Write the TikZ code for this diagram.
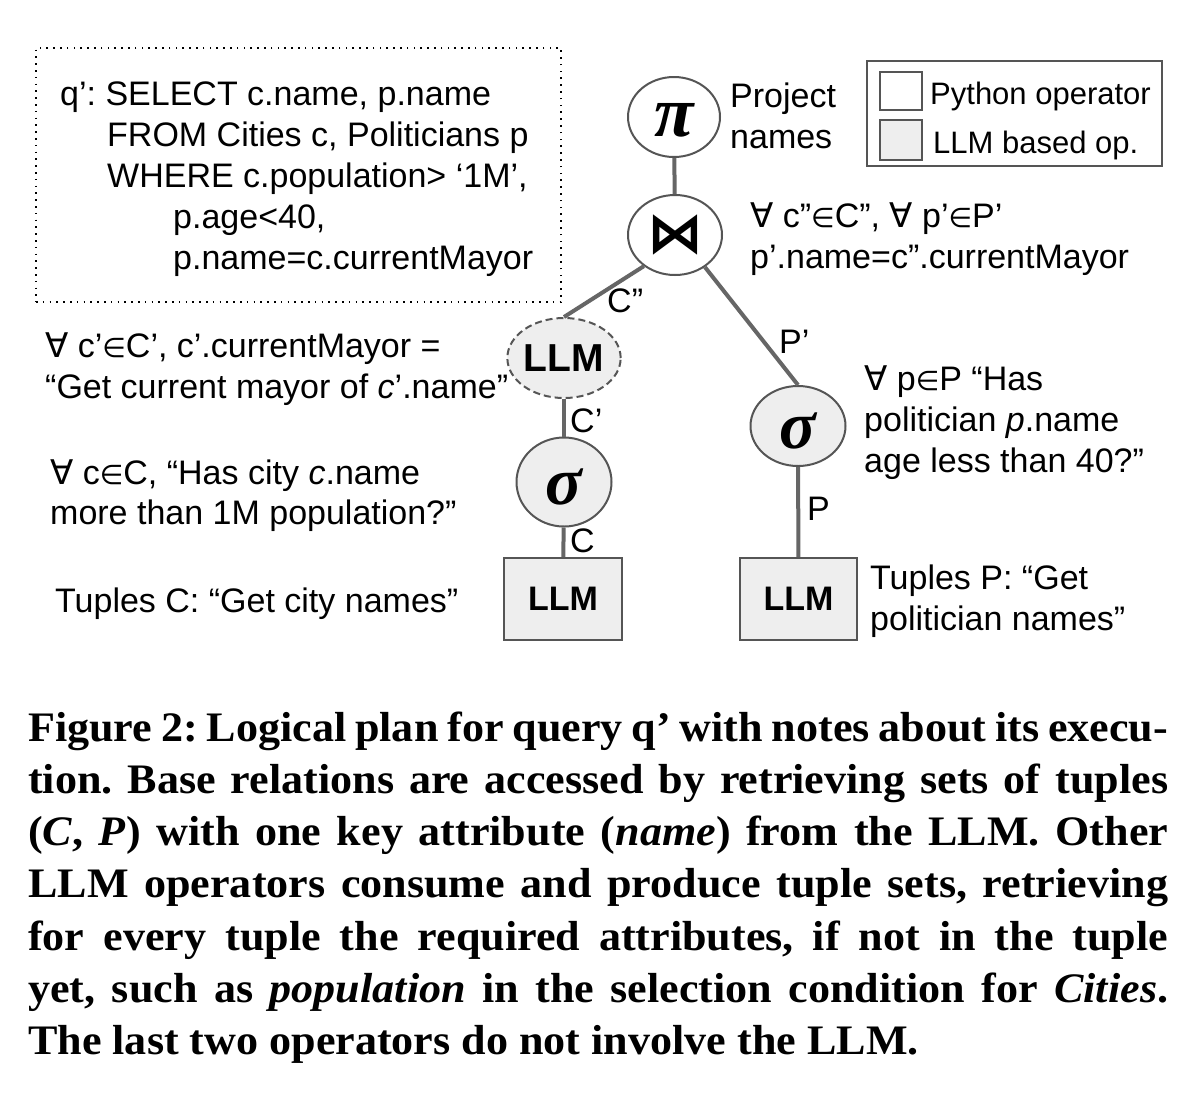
\documentclass[tikz,border=0pt]{standalone}
\usepackage{fontspec}
\usetikzlibrary{shapes.geometric}
\setmainfont{Liberation Serif}
\newfontfamily\arial{Liberation Sans}
\newfontfamily\djv{DejaVu Sans}
\newfontfamily\capfont[FakeStretch=1.05]{Liberation Serif}
\newfontfamily\greek{Liberation Serif}
\newcommand\fa{{\djv ∀}}
\newcommand\elem{{\djv\fontsize{27}{27}\selectfont ∈}}
\newcommand\lowerby[2]{\raisebox{-#1}[\height][0pt]{#2}}
\definecolor{opfill}{HTML}{EEEEEE}
\definecolor{opdraw}{HTML}{555555}
\definecolor{edgec}{HTML}{666666}
\frenchspacing
\tikzset{
  txt/.style={anchor=base west, inner sep=0pt, font=\arial\fontsize{34}{41}\selectfont},
  op/.style={ellipse, draw=opdraw, line width=2pt, inner sep=0pt},
  llmop/.style={op, fill=opfill},
  rect/.style={rectangle, draw=opdraw, line width=2pt, fill=opfill, inner sep=0pt,
    minimum width=117pt, minimum height=82pt, font=\arial\bfseries\fontsize{34}{41}\selectfont},
  edge/.style={draw=edgec, line width=4pt},
  sym/.style={font=\greek\bfseries\itshape\fontsize{68}{68}\selectfont}
}
\begin{document}
\begin{tikzpicture}[x=1pt,y=-1pt]
\useasboundingbox (0,0) rectangle (1204,1104);
% query box
\node[draw=black, line width=2pt, dash pattern=on 1.6pt off 5.2pt, minimum width=525pt, minimum height=254pt, inner sep=0pt] (qbox) at (298.5,175) {};
\node[txt] (q1) at (60,105) {q’: SELECT c.name, p.name};
\node[txt] (q2) at (107,146) {FROM Cities c, Politicians p};
\node[txt] (q3) at (107,187) {WHERE c.population> ‘1M’,};
\node[txt] (q4) at (173,228) {p.age<40,};
\node[txt] (q5) at (173,269) {p.name=c.currentMayor};
% operators
\node[op, fill=white, minimum width=92pt, minimum height=80pt, font=\greek\bfseries\itshape\fontsize{72}{72}\selectfont] (pi) at (674,117) {\lowerby{3pt}{π}};
\node[op, fill=white, minimum width=94pt, minimum height=80pt, font=\djv\bfseries\fontsize{56}{56}\selectfont] (join) at (675,235) {⋈};
\node[llmop, dashed, dash pattern=on 7pt off 4pt, minimum width=93pt, minimum height=80pt, font=\arial\bfseries\fontsize{39}{39}\selectfont] (llmc) at (564,358) {LLM};
\node[llmop, minimum width=95pt, minimum height=89pt, sym] (sigL) at (564,482) {\lowerby{5pt}{σ}};
\node[rect, minimum width=118pt] (recL) at (563,599) {LLM};
\node[llmop, minimum width=95pt, minimum height=80pt, sym] (sigR) at (798,426) {\lowerby{5pt}{σ}};
\node[rect] (recR) at (798.5,599) {LLM};
% edges
\draw[edge] (pi) -- (join);
\draw[edge] (join.225) -- (llmc.north);
\draw[edge] (join.-47) -- (sigR.north);
\draw[edge] (llmc) -- (sigL);
\draw[edge] (sigL) -- (recL);
\draw[edge] (sigR) -- (recR);
% edge labels
\node[txt] (lC2) at (607,312) {C”};
\node[txt] (lP1) at (779,353) {P’};
\node[txt] (lC1) at (570,432) {C’};
\node[txt] (lC) at (570,552) {C};
\node[txt] (lP) at (807,520) {P};
% notes
\node[txt] (pr1) at (730,107) {Project};
\node[txt] (pr2) at (730,148) {names};
\node[txt] (j1) at (750,227) {\fa{} c”\elem C”, \fa{} p’\elem P’};
\node[txt] (j2) at (750,268) {p’.name=c”.currentMayor};
\node[txt] (n1) at (45,357) {\fa{} c’\elem C’, c’.currentMayor =};
\node[txt] (n2) at (45,398) {“Get current mayor of \textit{c}’.name”};
\node[txt] (n3) at (50,484) {\fa{} c\elem C, “Has city \textit{c}.name};
\node[txt] (n4) at (50,524) {more than 1M population?”};
\node[txt] (n5) at (55,612) {Tuples C: “Get city names”};
\node[txt] (r1) at (864,390) {\fa{} p\elem P “Has};
\node[txt] (r2) at (864,431) {politician \textit{p}.name};
\node[txt] (r3) at (864,472) {age less than 40?”};
\node[txt] (t1) at (870,589) {Tuples P: “Get};
\node[txt] (t2) at (870,630) {politician names”};
% legend
\node[draw=opdraw, line width=2pt, minimum width=295pt, minimum height=105pt, inner sep=0pt] (leg) at (1014.5,113.5) {};
\node[draw=opdraw, line width=2pt, fill=white, minimum width=42pt, minimum height=38pt, inner sep=0pt] (legpy) at (901,91) {};
\node[draw=opdraw, line width=2pt, fill=opfill, minimum width=42pt, minimum height=40pt, inner sep=0pt] (legllm) at (901,140) {};
\node[txt, font=\arial\fontsize{31}{38}\selectfont] (lt1) at (930,104) {Python operator};
\node[txt, font=\arial\fontsize{31}{38}\selectfont] (lt2) at (933,153) {LLM based op.};
% caption
\node[anchor=base west, inner sep=0pt] (cap) at (28,741) {\parbox[t]{1140pt}{\capfont\bfseries\fontsize{42}{52.3}\selectfont
Figure 2: Logical plan for query q’ with notes about its execu-\linebreak
tion. Base relations are accessed by retrieving sets of tuples\linebreak
(\textit{C}, \textit{P}) with one key attribute (\textit{name}) from the LLM. Other\linebreak
LLM operators consume and produce tuple sets, retrieving\linebreak
for every tuple the required attributes, if not in the tuple\linebreak
yet, such as \textit{population} in the selection condition for \textit{Cities}.\linebreak
The last two operators do not involve the LLM.}};
\end{tikzpicture}
\end{document}
